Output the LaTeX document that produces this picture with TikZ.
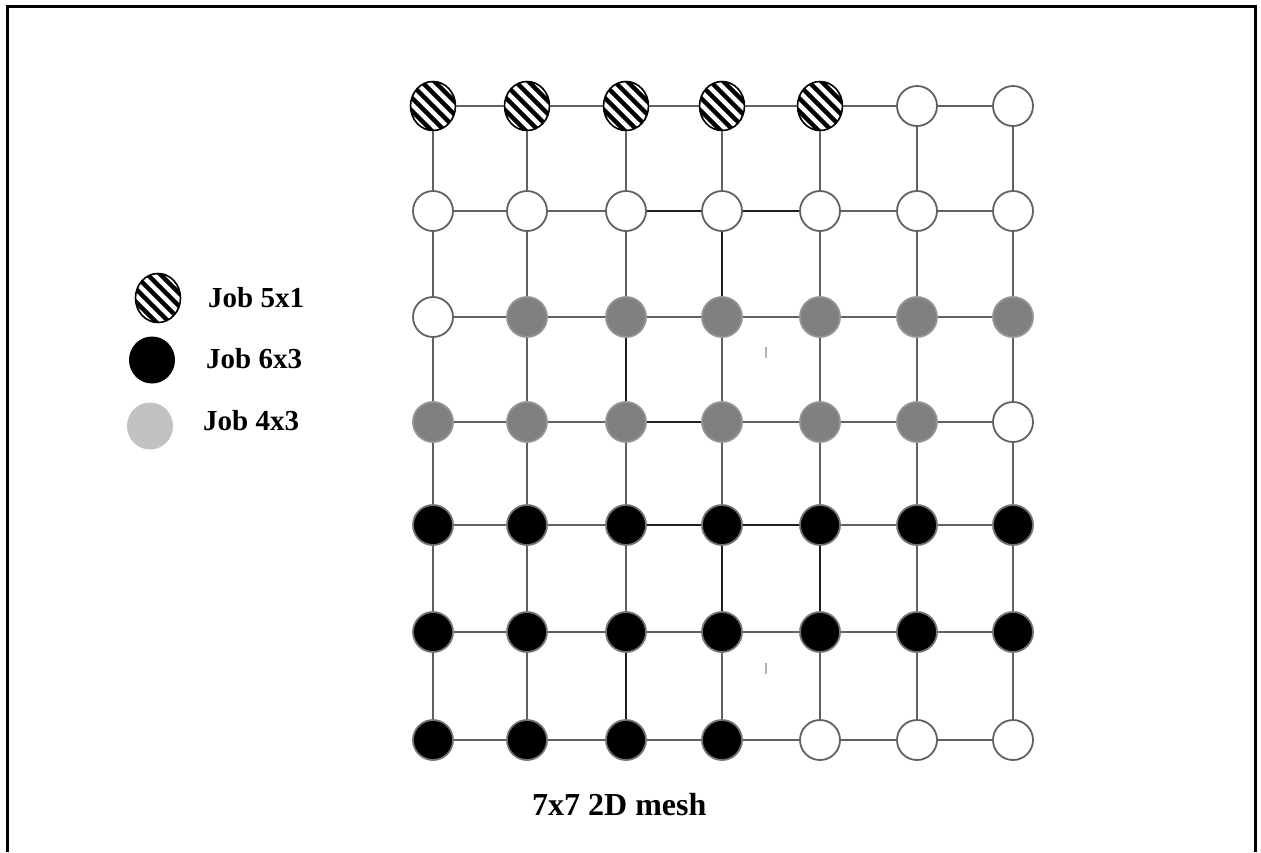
\documentclass[tikz,border=0pt]{standalone}
\usepackage{fontspec}
\setmainfont{Liberation Serif}
\usetikzlibrary{shapes.geometric}
\begin{document}
\begin{tikzpicture}[x=1pt,y=-1pt,
  link/.style={draw=black!62, line width=2.2pt},
  boldlink/.style={draw=black!88, line width=2.6pt},
  pe/.style={circle, minimum size=40pt, inner sep=0pt, line width=1.8pt},
  freepe/.style={pe, draw=black!62, fill=white},
  darkpe/.style={pe, draw=black!55, fill=black},
  greype/.style={pe, draw=black!42, fill=black!50},
  hatchpe/.style={ellipse, minimum width=45pt, minimum height=49pt, inner sep=0pt,
    draw=black, line width=1.6pt, fill=white,
    path picture={
      \foreach \k in {-78,-65,...,78}
        \draw[shift={(path picture bounding box.center)}, line width=4.4pt]
          (\k-40,-40) -- (\k+40,40);
    }},
  lightpe/.style={ellipse, minimum width=46pt, minimum height=47pt, inner sep=0pt, fill=black!24},
  legendtext/.style={anchor=base west, inner sep=0pt, font=\fontsize{29}{32}\selectfont\bfseries},
  captiontext/.style={anchor=base west, inner sep=0pt, font=\fontsize{32}{36}\selectfont\bfseries}
]
\useasboundingbox (0,0) rectangle (1261,852);
\fill[white] (0,0) rectangle (1261,852);

% open frame around the figure
\draw[line width=3pt] (7,852) -- (7,6) -- (1255,6) -- (1255,852);

% processor nodes of the 7x7 mesh: h = job 5x1, b = job 6x3, g = job 4x3, w = free
\def\colx{{433,527,626,722,820,917,1013}}
\def\rowy{{106,211,317,422,525,632,740}}
\foreach \r/\kinds in {1/{h,h,h,h,h,w,w},
                       2/{w,w,w,w,w,w,w},
                       3/{w,g,g,g,g,g,g},
                       4/{g,g,g,g,g,g,w},
                       5/{b,b,b,b,b,b,b},
                       6/{b,b,b,b,b,b,b},
                       7/{b,b,b,b,w,w,w}} {
  \foreach \t [count=\c] in \kinds {
    \pgfmathsetmacro{\px}{\colx[\c-1]}
    \pgfmathsetmacro{\py}{\rowy[\r-1]}
    \if h\t \node[hatchpe] (n-\r-\c) at (\px,\py) {};\fi
    \if w\t \node[freepe]  (n-\r-\c) at (\px,\py) {};\fi
    \if g\t \node[greype]  (n-\r-\c) at (\px,\py) {};\fi
    \if b\t \node[darkpe]  (n-\r-\c) at (\px,\py) {};\fi
  }
}

% mesh links
\foreach \r in {1,...,7} {
  \foreach \c [evaluate=\c as \cn using int(\c+1)] in {1,...,6} {
    \draw[link] (n-\r-\c) -- (n-\r-\cn);
  }
}
\foreach \c in {1,...,7} {
  \foreach \r [evaluate=\r as \rn using int(\r+1)] in {1,...,6} {
    \draw[link] (n-\r-\c) -- (n-\rn-\c);
  }
}

% darker links
\draw[boldlink] (n-2-3) -- (n-2-4);
\draw[boldlink] (n-2-4) -- (n-2-5);
\draw[boldlink] (n-2-4) -- (n-3-4);
\draw[boldlink] (n-3-3) -- (n-4-3);
\draw[boldlink] (n-4-3) -- (n-4-4);
\draw[boldlink] (n-5-3) -- (n-5-4);
\draw[boldlink] (n-5-4) -- (n-5-5);
\draw[boldlink] (n-5-4) -- (n-6-4);
\draw[boldlink] (n-5-5) -- (n-6-5);
\draw[boldlink] (n-6-3) -- (n-7-3);

% faint stray ticks
\draw[black!30, line width=1.5pt] (766,347) -- (766,358);
\draw[black!30, line width=1.5pt] (766,663) -- (766,674);

% legend
\node[hatchpe] (key-a) at (158,298) {};
\node[legendtext] (lab-a) at (208,307) {Job 5x1};
\node[ellipse, minimum width=46pt, minimum height=47pt, inner sep=0pt, fill=black] (key-b) at (152,360) {};
\node[legendtext] (lab-b) at (206,368) {Job 6x3};
\node[lightpe] (key-c) at (150,426) {};
\node[legendtext] (lab-c) at (203,430) {Job 4x3};

% caption
\node[captiontext] (caption) at (532,815) {7x7 2D mesh};
\end{tikzpicture}
\end{document}
